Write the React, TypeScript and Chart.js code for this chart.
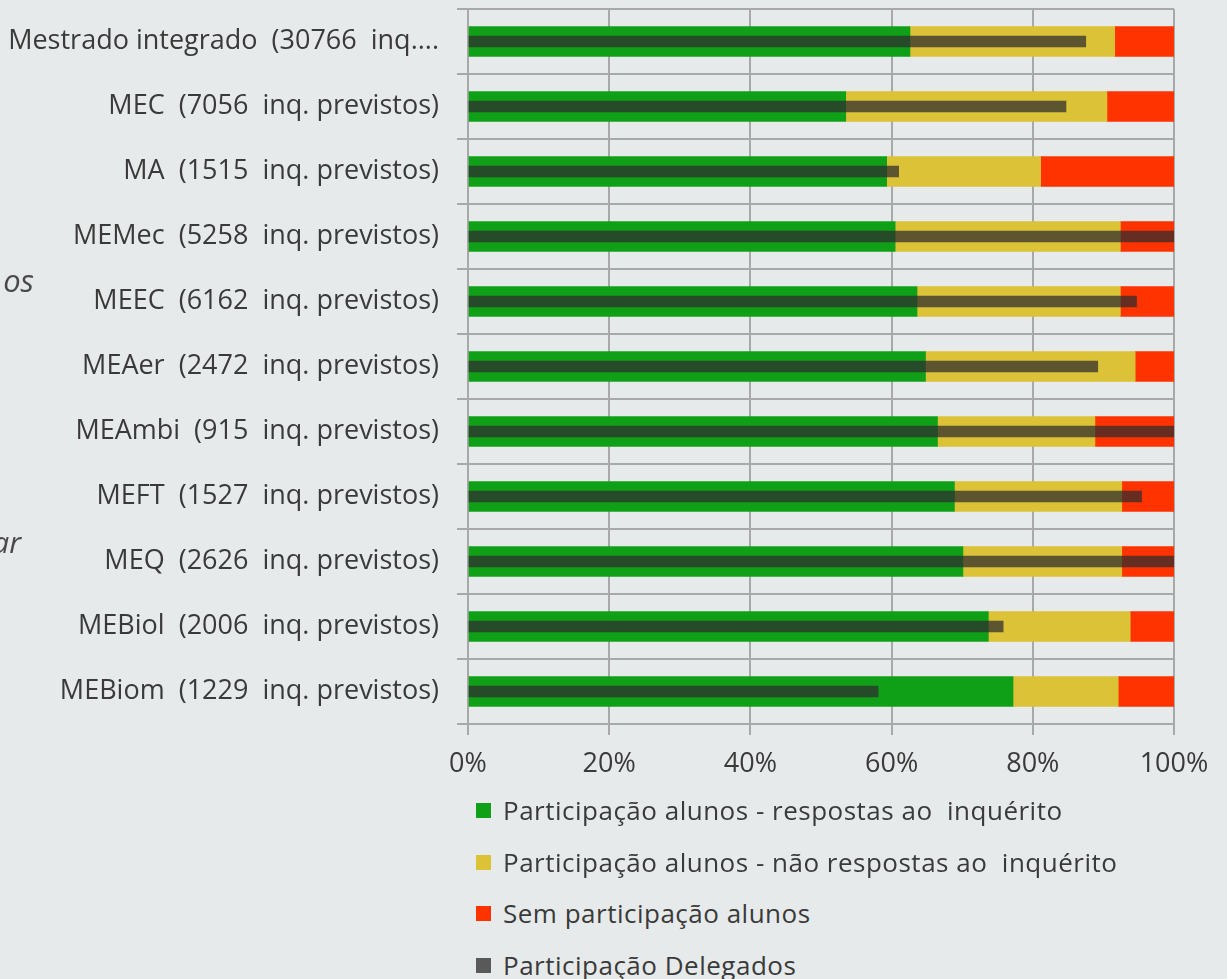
import React, { useEffect, useRef } from "react";
import { Chart, registerables } from "chart.js";

Chart.register(...registerables);

const categories = [
  "Mestrado integrado  (30766  inq....",
  "MEC  (7056  inq. previstos)",
  "MA  (1515  inq. previstos)",
  "MEMec  (5258  inq. previstos)",
  "MEEC  (6162  inq. previstos)",
  "MEAer  (2472  inq. previstos)",
  "MEAmbi  (915  inq. previstos)",
  "MEFT  (1527  inq. previstos)",
  "MEQ  (2626  inq. previstos)",
  "MEBiol  (2006  inq. previstos)",
  "MEBiom  (1229  inq. previstos)",
];

const respostas = [62.6, 53.5, 59.3, 60.5, 63.6, 64.8, 66.5, 68.9, 70.1, 73.7, 77.2];
const naoRespostas = [29.0, 37.0, 21.8, 31.9, 28.8, 29.7, 22.3, 23.7, 22.5, 20.1, 14.9];
const semParticipacao = [8.4, 9.5, 18.9, 7.6, 7.6, 5.5, 11.2, 7.4, 7.4, 6.2, 7.9];
const delegados = [87.5, 84.7, 61.0, 100, 94.7, 89.2, 100, 95.4, 100, 75.8, 58.1];

const seriesNames = [
  "Participação alunos - respostas ao  inquérito",
  "Participação alunos - não respostas ao  inquérito",
  "Sem participação alunos",
  "Participação Delegados",
];
const seriesColors = ["#10a018", "#dbc236", "#ff3300", "rgba(45,44,46,0.73)"];
const legendColors = ["#10a018", "#dbc236", "#ff3300", "#595959"];

const xTicks = [0, 20, 40, 60, 80, 100];

const GRID = "#a8a8a8";
const TEXT = "#3a3a3a";
const FONT = "'Open Sans', 'Liberation Sans', sans-serif";

export default function App() {
  const ref = useRef<HTMLCanvasElement | null>(null);

  useEffect(() => {
    if (!ref.current) return;
    const chart = new Chart(ref.current, {
      type: "bar",
      data: {
        labels: categories,
        datasets: [
          {
            label: seriesNames[0],
            data: respostas,
            backgroundColor: seriesColors[0],
            stack: "a",
            order: 0,
            barThickness: 30,
          },
          {
            label: seriesNames[1],
            data: naoRespostas,
            backgroundColor: seriesColors[1],
            stack: "a",
            order: 0,
            barThickness: 30,
          },
          {
            label: seriesNames[2],
            data: semParticipacao,
            backgroundColor: seriesColors[2],
            stack: "a",
            order: 0,
            barThickness: 30,
          },
          {
            label: seriesNames[3],
            data: delegados,
            backgroundColor: seriesColors[3],
            stack: "d",
            order: -1,
            grouped: false,
            barThickness: 11,
          } as any,
        ],
      },
      options: {
        indexAxis: "y",
        animation: false,
        responsive: false,
        maintainAspectRatio: false,
        layout: { padding: { top: 9, right: 53, bottom: 16, left: 0 } },
        plugins: {
          legend: { display: false },
          tooltip: { enabled: false },
        },
        scales: {
          x: {
            stacked: true,
            min: 0,
            max: 100,
            afterBuildTicks: (s: any) => {
              s.ticks = xTicks.map((v) => ({ value: v }));
            },
            ticks: {
              callback: (v: any) => v + "%",
              color: TEXT,
              font: { family: FONT, size: 27 },
              padding: 13,
            },
            grid: { color: GRID, lineWidth: 2, tickLength: 11 },
            border: { color: GRID, width: 2 },
            afterFit: (s: any) => {
              s.height = 60;
            },
          },
          y: {
            grid: { offset: true, color: GRID, lineWidth: 2, tickLength: 11 },
            border: { color: GRID, width: 2 },
            ticks: {
              color: TEXT,
              font: { family: FONT, size: 27 },
              padding: 18,
            },
            afterFit: (s: any) => {
              s.width = 468;
              s.paddingTop = 0;
              s.paddingBottom = 0;
            },
          },
        },
      },
    });
    return () => chart.destroy();
  }, []);

  const legendCenters = [810, 862, 913, 965];

  return (
    <div
      style={{
        position: "fixed",
        left: 0,
        top: 0,
        width: 1227,
        height: 979,
        background: "#e7eaea",
        overflow: "hidden",
      }}
    >
      <canvas
        ref={ref}
        width={1227}
        height={800}
        style={{ position: "absolute", left: 0, top: 0, width: 1227, height: 800 }}
      />
      <div
        style={{
          position: "absolute",
          right: 1227 - 34,
          top: 260,
          lineHeight: "40px",
          fontFamily: FONT,
          fontStyle: "italic",
          fontSize: 31,
          color: "#4a4a4a",
          whiteSpace: "nowrap",
        }}
      >
        os
      </div>
      <div
        style={{
          position: "absolute",
          right: 1227 - 21,
          top: 522,
          lineHeight: "40px",
          fontFamily: FONT,
          fontStyle: "italic",
          fontSize: 30,
          color: "#4a4a4a",
          whiteSpace: "nowrap",
        }}
      >
        ar
      </div>
      {seriesNames.map((name, i) => (
        <div
          key={name}
          style={{
            position: "absolute",
            left: 476,
            top: legendCenters[i] - 20,
            height: 40,
            display: "flex",
            alignItems: "center",
            whiteSpace: "pre",
            fontFamily: FONT,
            fontSize: 26,
            letterSpacing: "0.5px",
            color: TEXT,
          }}
        >
          <span
            style={{
              display: "inline-block",
              width: 15,
              height: 15,
              background: legendColors[i],
              marginRight: 12,
            }}
          />
          <span>{name}</span>
        </div>
      ))}
    </div>
  );
}
